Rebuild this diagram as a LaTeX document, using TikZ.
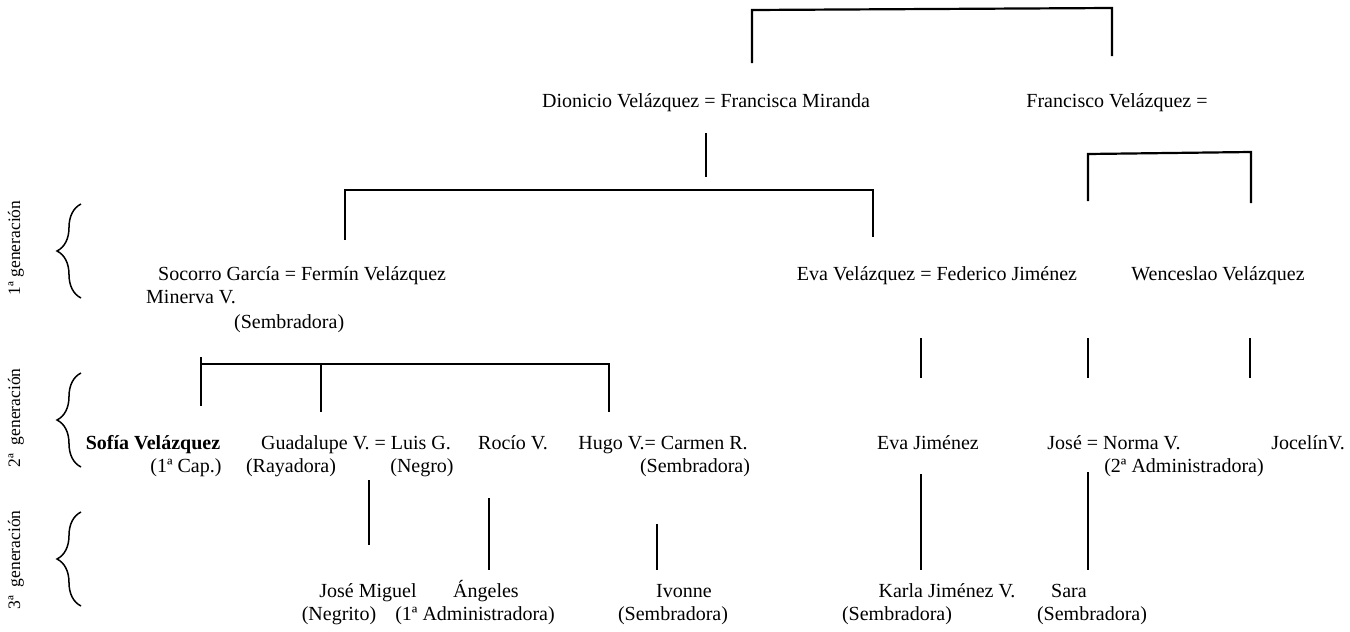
\documentclass[tikz,border=0pt]{standalone}
\usepackage{fontspec}
\setmainfont{Liberation Serif}
\usetikzlibrary{decorations.pathreplacing}
\begin{document}
\begin{tikzpicture}[x=1pt,y=-1pt,
  person/.style={anchor=base,inner sep=0pt,font=\fontsize{20}{22}\selectfont},
  genlabel/.style={rotate=90,inner sep=0pt,font=\fontsize{17.5}{19}\selectfont},
  link/.style={line width=2.2pt},
  genbrace/.style={line width=1.5pt,decorate,decoration={brace,amplitude=24pt}}]
\useasboundingbox (0,0) rectangle (1350,632);

% generation labels and braces
\node[genlabel] (g1) at (16,248) {1ª generación};
\node[genlabel] (g2) at (16,418) {2ª\ \ generación};
\node[genlabel] (g3) at (16,560) {3ª\ \ generación};
\coordinate (b1t) at (81,204); \coordinate (b1b) at (81,298);
\coordinate (b2t) at (81,373); \coordinate (b2b) at (81,467);
\coordinate (b3t) at (81,512); \coordinate (b3b) at (81,606);
\draw[genbrace] (b1b) -- (b1t);
\draw[genbrace] (b2b) -- (b2t);
\draw[genbrace] (b3b) -- (b3t);

% founders
\node[person] (dion) at (706,107) {Dionicio Velázquez = Francisca Miranda};
\node[person] (fran) at (1117,107) {Francisco Velázquez =};

% first generation
\node[person,anchor=base west] (soco) at (158,280) {Socorro García = Fermín Velázquez};
\node[person,anchor=base west] (mine) at (146,303) {Minerva V.};
\node[person,anchor=base west] (mine2) at (234,328) {(Sembradora)};
\node[person] (evav) at (937,280) {Eva Velázquez = Federico Jiménez};
\node[person] (wenc) at (1218,280) {Wenceslao Velázquez};

% second generation
\node[person] (sofi) at (153,449) {\bfseries Sofía Velázquez};
\node[person] (sofi2) at (186,472) {(1ª Cap.)};
\node[person] (guad) at (356,449) {Guadalupe V. = Luis G.};
\node[person] (guad2) at (291,472) {(Rayadora)};
\node[person] (luis2) at (422,472) {(Negro)};
\node[person] (roci) at (513,449) {Rocío V.};
\node[person] (hugo) at (663,449) {Hugo V.= Carmen R.};
\node[person] (carm2) at (695,472) {(Sembradora)};
\node[person] (evaj) at (928,449) {Eva Jiménez};
\node[person] (jose) at (1114,449) {José = Norma V.};
\node[person] (norm2) at (1184,472) {(2ª Administradora)};
\node[person] (joce) at (1308,449) {JocelínV.};

% third generation
\node[person] (jmig) at (368,597) {José Miguel};
\node[person] (jmig2) at (339,620) {(Negrito)};
\node[person] (ange) at (486,597) {Ángeles};
\node[person] (ange2) at (475,620) {(1ª Administradora)};
\node[person] (ivon) at (684,597) {Ivonne};
\node[person] (ivon2) at (673,620) {(Sembradora)};
\node[person] (karl) at (947,597) {Karla Jiménez V.};
\node[person] (karl2) at (897,620) {(Sembradora)};
\node[person] (sara) at (1069,597) {Sara};
\node[person] (sara2) at (1092,620) {(Sembradora)};

% sibling bracket of the founders
\draw[link] (752,63) -- (752,10) -- (1112,8) -- (1112,56);

% children of Dionicio
\draw[link] (706,133) -- (706,177);
\draw[link] (345,240) -- (345,190) -- (873,190) -- (873,237);

% children of Francisco
\draw[link] (1088,201) -- (1088,154) -- (1251,152) -- (1251,203);

% descent from the first generation
\draw[link] (921,338) -- (921,378);
\draw[link] (1088,338) -- (1088,378);
\draw[link] (1250,338) -- (1250,378);
\draw[link] (201,406) -- (201,357);
\draw[link] (201,364) -- (609,364) -- (609,412);
\draw[link] (321,364) -- (321,412);

% descent from the second generation
\draw[link] (369,480) -- (369,545);
\draw[link] (489,498) -- (489,570);
\draw[link] (657,524) -- (657,570);
\draw[link] (921,474) -- (921,570);
\draw[link] (1088,472) -- (1088,570);
\end{tikzpicture}
\end{document}
